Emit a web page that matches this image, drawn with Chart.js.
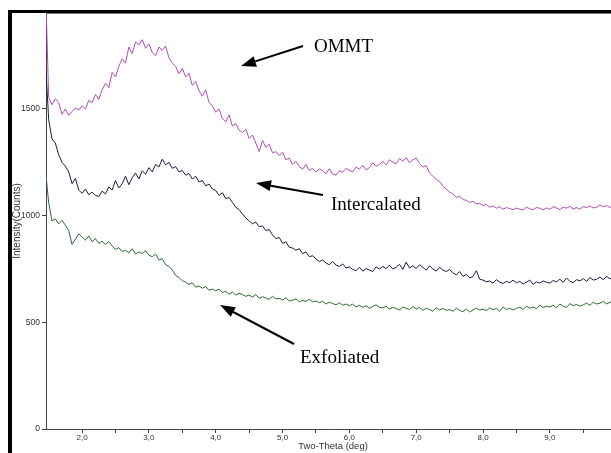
<!DOCTYPE html>
<html>
<head>
<meta charset="utf-8">
<script src="https://cdn.jsdelivr.net/npm/chart.js@4/dist/chart.umd.min.js"></script>
<style>
  html, body { margin: 0; padding: 0; background: #fff; overflow: hidden; }
  #wrap { position: absolute; left: 0; top: 0; width: 640px; height: 453px; }
</style>
</head>
<body>
<div id="wrap"><canvas id="xrd" width="640" height="453"></canvas></div>
<script>
// scan grid: first point 1.46, then 1.50 ... 10.05 in 0.05 deg steps
var scanFirst = 1.46
var scanStart = 1.5
var scanStep = 0.05

var ommt = [2000,
  1555, 1520, 1548, 1530, 1475, 1500, 1470, 1488, 1505, 1495,
  1515, 1500, 1540, 1530, 1568, 1545, 1590, 1620, 1600, 1672,
  1650, 1700, 1735, 1715, 1790, 1760, 1815, 1800, 1825, 1785,
  1805, 1765, 1750, 1790, 1775, 1795, 1740, 1715, 1700, 1665,
  1690, 1650, 1668, 1610, 1630, 1585, 1560, 1590, 1530, 1515,
  1485, 1500, 1455, 1440, 1472, 1420, 1432, 1400, 1390, 1405,
  1362, 1378, 1340, 1300, 1352, 1320, 1335, 1295, 1300, 1282,
  1298, 1262, 1270, 1240, 1255, 1230, 1218, 1240, 1212, 1222,
  1205, 1218, 1212, 1196, 1220, 1195, 1190, 1210, 1204, 1222,
  1212, 1205, 1228, 1218, 1235, 1215, 1225, 1248, 1232, 1240,
  1255, 1238, 1262, 1250, 1244, 1268, 1255, 1272, 1248, 1262,
  1270, 1245, 1228, 1235, 1200, 1185, 1170, 1160, 1138, 1125,
  1110, 1102, 1085, 1092, 1075, 1072, 1062, 1068, 1055, 1058,
  1048, 1052, 1040, 1046, 1035, 1042, 1030, 1038, 1033, 1028,
  1036, 1030, 1026, 1040, 1032, 1028, 1038, 1035, 1027, 1036,
  1030, 1042, 1036, 1028, 1040, 1035, 1044, 1031, 1038, 1030,
  1042, 1038, 1046, 1036, 1040, 1050, 1042, 1047, 1038, 1050,
  1046, 1050]

var intercalated = [1680,
  1450, 1360, 1340, 1285, 1250, 1232, 1205, 1150, 1175, 1120,
  1105, 1125, 1098, 1110, 1095, 1090, 1115, 1102, 1135, 1120,
  1165, 1130, 1150, 1185, 1145, 1178, 1200, 1172, 1210, 1195,
  1225, 1205, 1240, 1228, 1265, 1238, 1250, 1222, 1230, 1205,
  1212, 1190, 1198, 1172, 1185, 1158, 1165, 1140, 1148, 1125,
  1118, 1095, 1108, 1080, 1085, 1062, 1040, 1028, 1008, 990,
  975, 962, 970, 948, 952, 930, 935, 910, 892, 898,
  870, 878, 852, 848, 838, 845, 822, 830, 808, 812,
  798, 785, 792, 778, 770, 785, 768, 762, 774, 755,
  760, 748, 742, 758, 740, 752, 745, 738, 760, 750,
  762, 752, 768, 750, 758, 772, 748, 782, 755, 765,
  752, 770, 758, 745, 765, 750, 740, 758, 745, 738,
  748, 732, 722, 738, 715, 725, 708, 715, 742, 702,
  698, 690, 694, 684, 700, 688, 682, 692, 686, 698,
  685, 692, 680, 688, 698, 678, 690, 684, 694, 688,
  684, 696, 690, 702, 688, 708, 692, 686, 700, 694,
  705, 692, 710, 698, 702, 712, 700, 715, 704, 708,
  706, 712]

var exfoliated = [1190,
  1060, 975, 985, 962, 978, 955, 930, 865, 890, 915,
  900, 885, 905, 878, 892, 870, 880, 865, 878, 858,
  842, 850, 832, 838, 826, 845, 820, 830, 822, 835,
  815, 808, 820, 792, 798, 770, 762, 745, 720, 710,
  695, 688, 678, 685, 665, 670, 660, 668, 650, 656,
  648, 655, 640, 645, 632, 642, 628, 636, 630, 622,
  628, 618, 630, 612, 620, 614, 608, 622, 610, 612,
  605, 615, 600, 604, 610, 596, 602, 598, 608, 596,
  600, 592, 598, 586, 594, 588, 582, 592, 580, 586,
  578, 585, 572, 580, 570, 578, 566, 575, 582, 570,
  568, 575, 562, 570, 565, 558, 572, 566, 560, 574,
  562, 570, 556, 566, 560, 552, 568, 558, 565, 556,
  560, 552, 566, 556, 550, 562, 548, 558, 566, 558,
  562, 555, 568, 558, 566, 552, 572, 560, 566, 558,
  565, 572, 560, 576, 566, 572, 564, 580, 570, 575,
  572, 580, 568, 586, 575, 570, 588, 578, 584, 576,
  582, 590, 580, 594, 586, 590, 598, 586, 594, 598,
  596, 600]

var xTickLabels = ["2,0", "3,0", "4,0", "5,0", "6,0", "7,0", "8,0", "9,0", "10,0"]
var yTickValues = [0, 500, 1000, 1500]

var twoTheta = [scanFirst]
for (var i = 1; i < ommt.length; i++) {
    twoTheta.push(+(scanStart + (i - 1) * scanStep).toFixed(2))
}

function pts(arr) {
    return arr.map(function (v, i) { return {x: twoTheta[i], y: v} })
}

var sans = "'Liberation Sans', Arial, sans-serif"
var tickFont = {family: sans, size: 8}
var serif = "19px 'Liberation Serif', 'Times New Roman', serif"

// black frame + top border of the plot
var framePlugin = {
    id: 'frame',
    beforeDraw: function (chart) {
        var c = chart.ctx
        c.save()
        c.fillStyle = '#fff'
        c.fillRect(0, 0, chart.width, chart.height)
        c.fillStyle = '#000'
        c.fillRect(8, 10, 4, chart.height)
        c.fillRect(8, 10, chart.width, 3)
        c.strokeStyle = '#777'
        c.lineWidth = 1
        c.beginPath()
        c.moveTo(chart.chartArea.left, 13.5)
        c.lineTo(chart.width, 13.5)
        c.stroke()
        c.restore()
    }
}

function arrow(c, x1, y1, x2, y2) {
    var a = Math.atan2(y2 - y1, x2 - x1)
    var len = 15, half = 5.5
    var bx = x2 - len * Math.cos(a), by = y2 - len * Math.sin(a)
    c.beginPath()
    c.moveTo(x1, y1)
    c.lineTo(bx, by)
    c.stroke()
    c.beginPath()
    c.moveTo(x2, y2)
    c.lineTo(bx + half * Math.sin(a), by - half * Math.cos(a))
    c.lineTo(bx - half * Math.sin(a), by + half * Math.cos(a))
    c.closePath()
    c.fill()
}

var notesPlugin = {
    id: 'notes',
    afterDraw: function (chart) {
        var c = chart.ctx
        c.save()
        c.fillStyle = '#000'
        c.strokeStyle = '#000'
        c.lineWidth = 2
        c.font = serif
        c.textBaseline = 'alphabetic'
        c.fillText('OMMT', 314, 52)
        c.fillText('Intercalated', 331, 210)
        c.fillText('Exfoliated', 300, 363)
        arrow(c, 303, 46, 241, 66)
        arrow(c, 323, 195, 256, 183)
        arrow(c, 294, 344, 220, 305)
        c.restore()
    }
}

var ctx = document.getElementById('xrd').getContext('2d')

var chart = new Chart(ctx, {
    type: 'line',
    data: {
        datasets: [
            {label: 'OMMT', data: pts(ommt), borderColor: '#b24cb8', borderWidth: 1},
            {label: 'Intercalated', data: pts(intercalated), borderColor: '#1c1c44', borderWidth: 1},
            {label: 'Exfoliated', data: pts(exfoliated), borderColor: '#2f6a36', borderWidth: 1}
        ]
    },
    options: {
        responsive: false,
        animation: false,
        devicePixelRatio: 1,
        layout: {padding: {top: 13, right: 20, left: 0, bottom: 0}},
        elements: {point: {radius: 0}, line: {tension: 0}},
        plugins: {legend: {display: false}, tooltip: {enabled: false}},
        scales: {
            x: {
                type: 'linear',
                min: 1.46,
                max: 10.05,
                grid: {drawOnChartArea: false, drawTicks: true, tickLength: 4, color: '#444'},
                border: {color: '#444', width: 1},
                ticks: {
                    stepSize: 0.5,
                    autoSkip: false,
                    maxRotation: 0,
                    padding: 0,
                    color: '#333',
                    font: tickFont,
                    callback: function (v) {
                        if (Math.abs(v - Math.round(v)) > 1e-6) return ''
                        return xTickLabels[Math.round(v) - 2]
                    }
                },
                afterBuildTicks: function (s) {
                    s.ticks = s.ticks.filter(function (t) {
                        return Math.abs(t.value * 2 - Math.round(t.value * 2)) < 1e-6
                    })
                },
                afterFit: function (s) { s.height = 24 },
                title: {
                    display: true,
                    text: 'Two-Theta (deg)',
                    color: '#333',
                    font: {family: sans, size: 9.5},
                    padding: {top: 0, bottom: 1}
                }
            },
            y: {
                min: 0,
                max: 1950,
                grid: {drawOnChartArea: false, drawTicks: true, tickLength: 4, color: '#444'},
                border: {color: '#444', width: 1},
                ticks: {
                    padding: 2,
                    color: '#333',
                    font: {family: sans, size: 8.5},
                    callback: function (v) { return String(v) }
                },
                afterBuildTicks: function (s) {
                    s.ticks = yTickValues.map(function (v) { return {value: v} })
                },
                afterFit: function (s) { s.width = 46 },
                title: {
                    display: true,
                    text: 'Intensity(Counts)',
                    color: '#333',
                    font: {family: sans, size: 10},
                    padding: {top: 11, bottom: 0}
                }
            }
        }
    },
    plugins: [framePlugin, notesPlugin]
})
</script>
</body>
</html>
